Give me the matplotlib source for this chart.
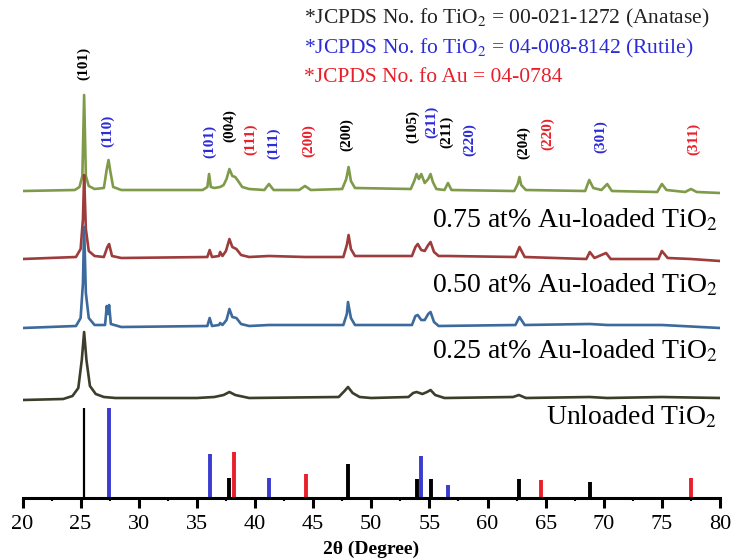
import matplotlib.pyplot as plt
import numpy as np

plt.rcParams['font.family'] = ['Liberation Serif', 'DejaVu Serif']
plt.rcParams['mathtext.fontset'] = 'stix'

# Difractogramas (2theta, intensidade acima da linha de base)
tt_075 = [20, 24.5, 24.9, 25.15, 25.3, 25.45, 25.7, 26.2, 27.0, 27.25, 27.4, 27.55, 27.8, 28.5,
          35.5, 35.9, 36.05, 36.2, 36.5, 37.0, 37.3, 37.55, 37.8, 38.05, 38.3, 38.55, 38.9, 39.5,
          40.8, 41.2, 41.6, 43.8, 44.3, 44.8, 47.5, 47.85, 48.05, 48.25, 48.6,
          53.4, 53.7, 53.9, 54.1, 54.3, 54.6, 54.9, 55.1, 55.3, 55.6, 56.3, 56.6, 56.9,
          62.3, 62.6, 62.75, 62.9, 63.3, 68.4, 68.75, 69.1, 69.8, 70.3, 70.7,
          74.6, 75.0, 75.4, 77.0, 77.5, 78.0, 80]
int_075 = [0, 1, 4, 15, 96, 15, 5, 2, 3, 22, 31, 20, 4, 1,
           1, 4, 17, 4, 3, 4, 6, 12, 22, 15, 14, 10, 4, 2,
           1, 7, 1, 1, 5, 1, 2, 12, 24, 10, 3,
           2, 10, 17, 12, 17, 8, 12, 17, 9, 2, 1, 8, 1,
           0, 7, 14, 6, 1, 0, 11, 3, 1, 7, 0,
           -1, 7, 1, -1, 2, -1, -2]

tt_050 = [20, 24.6, 25.0, 25.2, 25.3, 25.45, 25.7, 26.2, 27.0, 27.3, 27.45, 27.7, 28.5,
          35.9, 36.1, 36.3, 36.9, 37.0, 37.2, 37.5, 37.8, 38.05, 38.4, 38.8, 39.5,
          41.2, 44.3, 47.6, 47.9, 48.05, 48.25, 48.6,
          53.5, 53.8, 54.0, 54.3, 54.6, 54.9, 55.1, 55.4, 55.8, 56.6,
          62.4, 62.75, 63.2, 68.5, 68.8, 69.2, 70.2, 70.6, 74.7, 75.0, 75.5, 77.5, 80]
int_050 = [0, 2, 10, 40, 84, 30, 8, 3, 2, 12, 15, 3, 1,
           2, 9, 2, 3, 7, 3, 8, 20, 12, 10, 4, 2,
           3, 2, 2, 14, 24, 10, 3,
           3, 12, 15, 9, 8, 14, 17, 7, 3, 3,
           2, 12, 2, 0, 7, 1, 6, 0, 0, 8, 1, 0, -2]

tt_025 = [20, 24.6, 25.0, 25.2, 25.3, 25.45, 25.7, 26.2, 27.1, 27.25, 27.35, 27.45, 27.6, 28.5,
          35.9, 36.1, 36.3, 36.9, 37.0, 37.2, 37.55, 37.8, 38.05, 38.4, 38.8, 39.5,
          41.2, 47.6, 47.9, 48.0, 48.25, 48.6,
          53.5, 53.8, 54.0, 54.3, 54.6, 54.9, 55.1, 55.4, 55.8,
          62.4, 62.75, 63.2, 68.8, 70.3, 75.0, 80]
int_025 = [0, 2, 10, 45, 101, 35, 10, 3, 3, 22, 14, 23, 4, 1,
           2, 10, 2, 3, 5, 3, 8, 19, 11, 10, 4, 2,
           3, 3, 14, 26, 10, 3,
           3, 12, 13, 8, 8, 14, 16, 6, 2,
           3, 11, 3, 4, 3, 3, 0]

tt_000 = [20, 23.5, 24.3, 24.8, 25.1, 25.3, 25.5, 25.8, 26.3, 27.0, 28.0,
          35.0, 36.5, 37.3, 37.8, 38.3, 39.5, 47.2, 47.7, 48.0, 48.4, 49.0, 50.0,
          53.2, 53.6, 53.9, 54.4, 54.8, 55.1, 55.5, 56.3,
          62.2, 62.7, 63.3, 68.8, 70.3, 75.0, 80]
int_000 = [0, 1, 4, 12, 40, 68, 40, 14, 6, 3, 2,
           2, 3, 5, 8, 5, 2, 3, 9, 13, 7, 3, 2,
           3, 7, 8, 6, 8, 10, 5, 2,
           3, 5, 2, 3, 2, 3, 2]

sample_labels = ['0.75 at% Au-loaded TiO$_2$', '0.50 at% Au-loaded TiO$_2$',
                 '0.25 at% Au-loaded TiO$_2$', 'Unloaded TiO$_2$']

# Padroes JCPDS
anatase_pos = [25.3, 37.8, 48.0, 53.9, 55.1, 62.7, 68.8]
anatase_h = [90, 20, 34, 19, 19, 19, 16]
rutile_pos = [27.4, 36.1, 41.2, 54.3, 56.6]
rutile_h = [90, 44, 20, 42, 13]
au_pos = [38.2, 44.4, 64.6, 77.5]
au_h = [46, 24, 18, 20]

# Indices de Miller (posicao do rotulo em 2theta)
hkl_text = ['(101)', '(110)', '(101)', '(004)', '(111)', '(111)', '(200)', '(200)',
            '(105)', '(211)', '(211)', '(220)', '(204)', '(220)', '(301)', '(311)']
hkl_phase = ['a', 'r', 'r', 'a', 'u', 'r', 'u', 'a', 'a', 'r', 'a', 'r', 'a', 'u', 'r', 'u']
hkl_x = [25.3, 27.36, 36.1, 37.86, 39.6, 41.6, 44.6, 47.9,
         53.6, 55.2, 56.5, 58.5, 63.1, 65.2, 69.7, 77.7]

legend_lines = ['*JCPDS No. fo TiO$_2$ = 00-021-1272 (Anatase)',
                '*JCPDS No. fo TiO$_2$ = 04-008-8142 (Rutile)',
                '*JCPDS No. fo Au = 04-0784']

phase_colors = {'a': 'black', 'r': '#2c2cd6', 'u': '#e8202a'}

fig = plt.figure(figsize=(7.34, 5.59), dpi=100)
ax = fig.add_axes([22.5 / 734, 61 / 559, 697.5 / 734, 498 / 559])
ax.set_xlim(20, 80)
ax.set_ylim(0, 498)

# curvas (ordem: verde por baixo, preta por cima)
traces = [(tt_075, int_075, 307, '#7f9b4a'),
          (tt_050, int_050, 239, '#9e3b3b'),
          (tt_025, int_025, 170, '#3c6a9c'),
          (tt_000, int_000, 98, '#3d3d2b')]
for tt, inten, off, col in traces:
    ax.plot(tt, np.array(inten) + off, color=col, lw=1.9)

label_y = [271, 206, 140, 74]
for txt, yy in zip(sample_labels, label_y):
    ax.text(79.8, yy, txt, ha='right', va='baseline', fontsize=20)

# barras de referencia
ax.vlines(anatase_pos[:1], 0, anatase_h[:1], color='black', lw=1.6)
ax.vlines(anatase_pos[1:], 0, anatase_h[1:], color='black', lw=2.8)
ax.vlines(rutile_pos, 0, rutile_h, color='#3b3bd0', lw=2.8)
ax.vlines(au_pos, 0, au_h, color='#e8202a', lw=2.8)

label_cy = [435, 367, 357, 372, 359, 355, 357, 363, 372, 376, 366, 358, 355, 364, 361, 359]
for txt, ph, xx, yy in zip(hkl_text, hkl_phase, hkl_x, label_cy):
    ax.text(xx, yy, txt, rotation=90, ha='center', va='center', fontsize=11,
            fontweight='bold', color=phase_colors[ph])

leg_colors = ['#222222', '#2c2cd6', '#e8202a']
for i, (txt, col) in enumerate(zip(legend_lines, leg_colors)):
    fig.text(304 / 734, 1 - (18 + 30 * i) / 559, txt, color=col, fontsize=15.5,
             ha='left', va='center')

for s in ['top', 'left', 'right']:
    ax.spines[s].set_visible(False)
ax.spines['bottom'].set_linewidth(2.2)
ax.set_yticks([])
ax.set_xticks(np.arange(20, 81, 5))
ax.set_xticks(np.arange(22.5, 80, 5), minor=True)
ax.tick_params(axis='x', which='major', direction='out', length=7, width=2.2,
               labelsize=16, pad=5)
ax.tick_params(axis='x', which='minor', direction='out', length=2, width=1.5)
ax.set_xlabel('2θ (Degree)', fontsize=14, fontweight='bold', labelpad=5)

fig.savefig('out.png', dpi=100)
